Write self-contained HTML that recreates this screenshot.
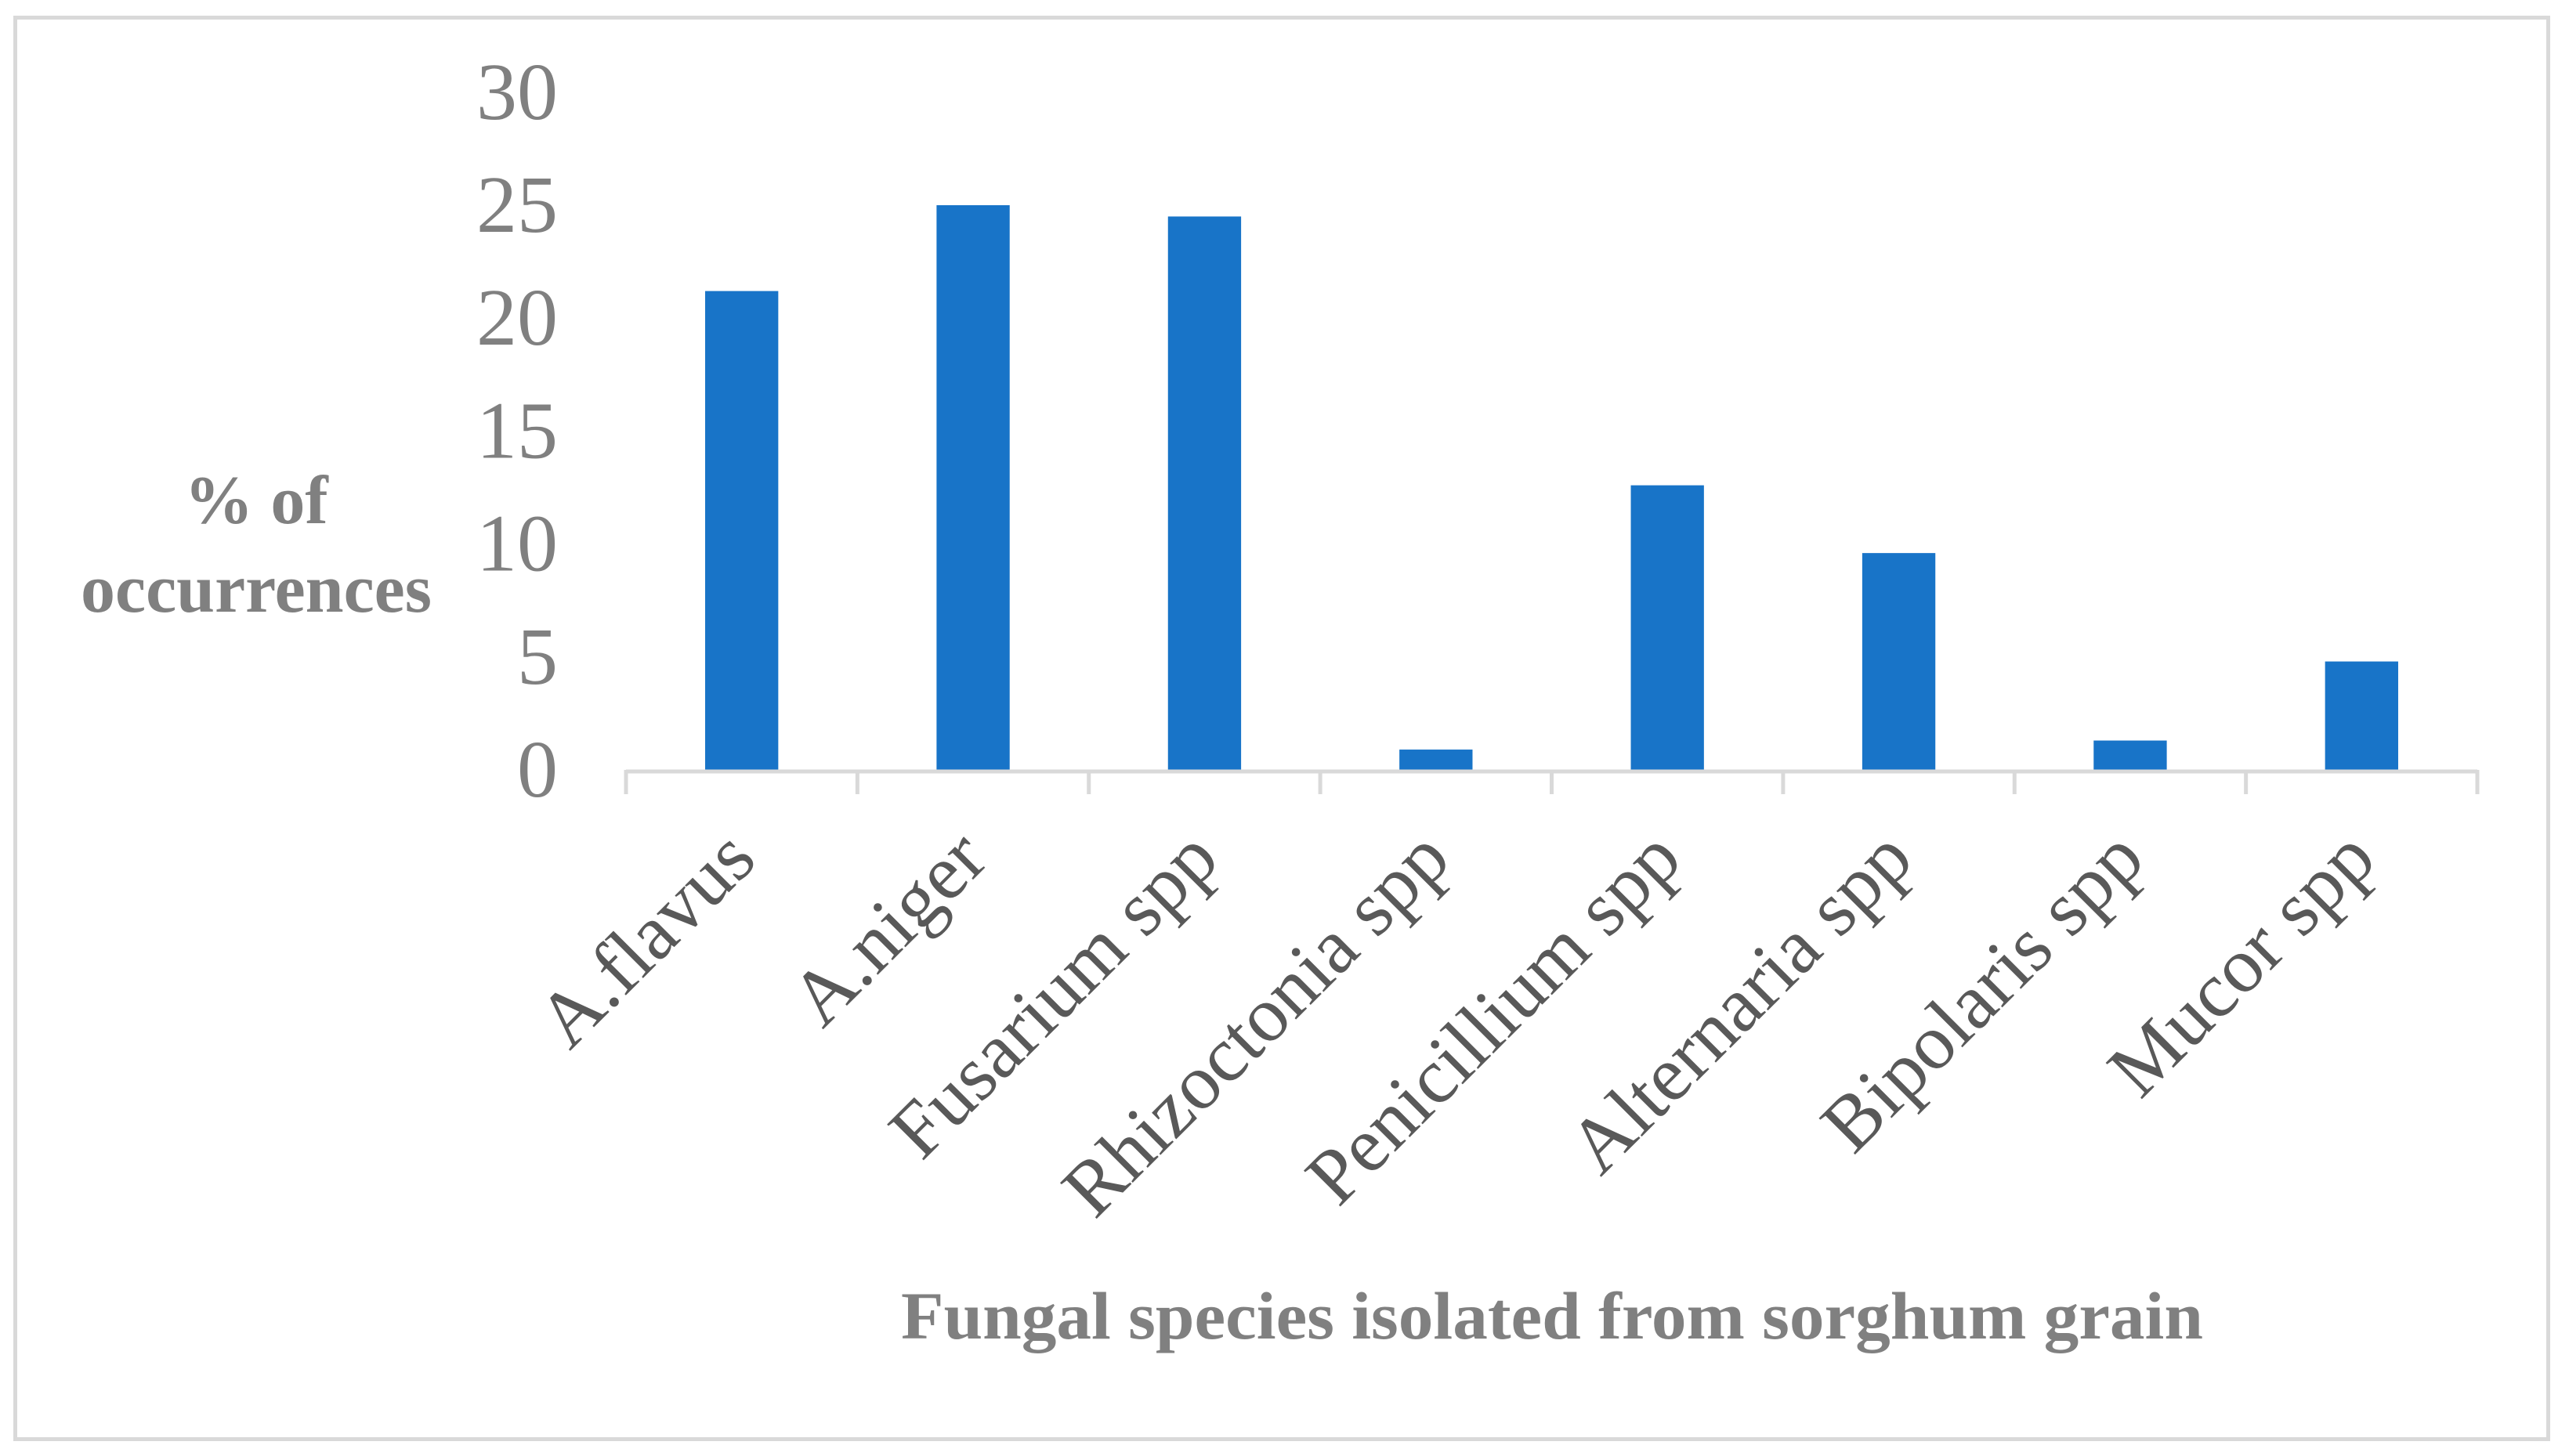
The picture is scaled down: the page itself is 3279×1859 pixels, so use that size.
<!DOCTYPE html>
<html><head><meta charset="utf-8"><style>
html,body{margin:0;padding:0;background:#fff;}
svg{display:block;}
</style></head><body>
<svg id="chart" width="3279" height="1859" viewBox="0 0 3279 1859" xmlns="http://www.w3.org/2000/svg">
<rect x="19.5" y="22.5" width="3233" height="1815" fill="#fff" stroke="#d9d9d9" stroke-width="5"/>
<g id="yticks"></g>
<g id="bars"></g>
<g id="xaxis"></g>
<g id="xlabels"></g>
<text font-family="'Liberation Serif',serif" font-weight="bold" font-size="88" fill="#808080" text-anchor="middle"><tspan x="327" y="668">% of</tspan><tspan x="327" y="781">occurrences</tspan></text>
<text x="1150" y="1709" font-family="'Liberation Serif',serif" font-weight="bold" font-size="86" fill="#808080" textLength="1662" lengthAdjust="spacingAndGlyphs">Fungal species isolated from sorghum grain</text>
</svg>
<script>
const categories = ["A.flavus","A.niger","Fusarium spp","Rhizoctonia spp","Penicillium spp","Alternaria spp","Bipolaris spp","Mucor spp"];
const values = [21.2, 25.0, 24.5, 0.9, 12.6, 9.6, 1.3, 4.8];
const yTicks = [0, 5, 10, 15, 20, 25, 30];

const NS = "http://www.w3.org/2000/svg";
const plotLeft = 799, plotRight = 3162, y0 = 983, unit = 28.84;
const band = (plotRight - plotLeft) / categories.length;
const yScale = v => y0 - v * unit;
const xCenter = i => plotLeft + band * (i + 0.5);
const barW = band * 0.316;

const yt = document.getElementById('yticks');
yTicks.forEach(t => {
  const el = document.createElementNS(NS, 'text');
  
  
  el.setAttribute('x', 712);
  el.setAttribute('y', yScale(t) + 34);
  el.setAttribute('text-anchor', 'end');
  el.setAttribute('font-family', "'Liberation Serif',serif");
  el.setAttribute('font-size', '104');
  el.setAttribute('fill', '#808080');
  el.textContent = t;
  yt.appendChild(el);
});

const bg = document.getElementById('bars');
values.forEach((v, i) => {
  const r = document.createElementNS(NS, 'rect');
  
  
  r.setAttribute('x', xCenter(i) - barW / 2);
  r.setAttribute('y', yScale(v));
  r.setAttribute('width', barW);
  r.setAttribute('height', y0 - yScale(v));
  r.setAttribute('fill', '#1874c8');
  bg.appendChild(r);
});

const xa = document.getElementById('xaxis');
const line = document.createElementNS(NS, 'line');


line.setAttribute('x1', plotLeft); line.setAttribute('x2', plotRight);
line.setAttribute('y1', y0 + 2); line.setAttribute('y2', y0 + 2);
line.setAttribute('stroke', '#d9d9d9'); line.setAttribute('stroke-width', '5');
xa.appendChild(line);
for (let i = 0; i <= categories.length; i++) {
  const tk = document.createElementNS(NS, 'line');
  
  
  const x = plotLeft + band * i;
  tk.setAttribute('x1', x); tk.setAttribute('x2', x);
  tk.setAttribute('y1', y0); tk.setAttribute('y2', y0 + 31);
  tk.setAttribute('stroke', '#d9d9d9'); tk.setAttribute('stroke-width', '5');
  xa.appendChild(tk);
}

const xl = document.getElementById('xlabels');
categories.forEach((c, i) => {
  const el = document.createElementNS(NS, 'text');
  
  
  const x = xCenter(i) + 22, y = y0 + 118;
  el.setAttribute('x', x); el.setAttribute('y', y);
  el.setAttribute('text-anchor', 'end');
  el.setAttribute('transform', `rotate(-45 ${x} ${y})`);
  el.setAttribute('font-family', "'Liberation Serif',serif");
  el.setAttribute('font-size', '100');
  el.setAttribute('fill', '#595959');
  el.textContent = c;
  xl.appendChild(el);
});
</script>
</body></html>
